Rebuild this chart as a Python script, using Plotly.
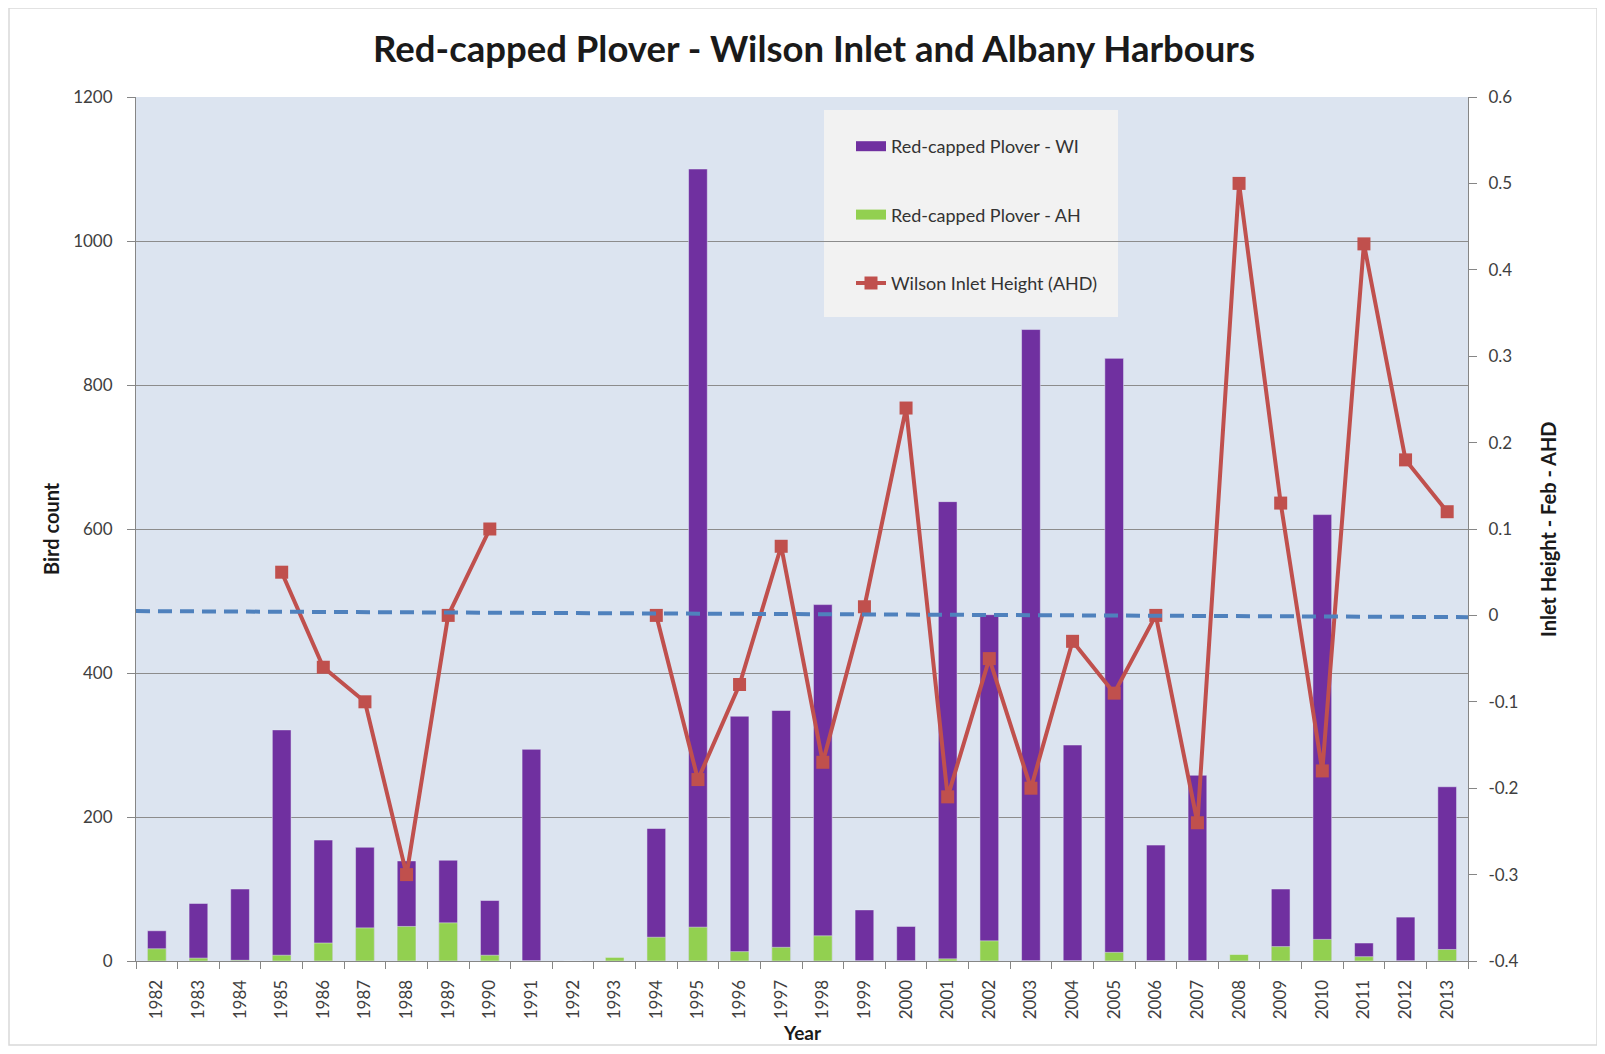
import plotly.graph_objects as go

years = list(range(1982, 2014))
plover_wi = [42, 80, 100, 321, 168, 158, 139, 140, 84, 294, 0, 0, 184, 1100, 340, 348, 495, 71, 48, 638, 481, 877, 300, 837, 161, 258, 0, 100, 620, 25, 61, 242]
plover_ah = [17, 4, 1, 8, 25, 46, 48, 53, 8, 0, 0, 5, 33, 47, 13, 19, 35, 0, 0, 3, 28, 0, 0, 12, 0, 0, 9, 20, 30, 6, 0, 16]
inlet_height = [None, None, None, 0.05, -0.06, -0.10, -0.30, 0.0, 0.10, None, None, None, 0.0, -0.19, -0.08, 0.08, -0.17, 0.01, 0.24, -0.21, -0.05, -0.20, -0.03, -0.09, 0.0, -0.24, 0.50, 0.13, -0.18, 0.43, 0.18, 0.12]
trend_x = [1981.5, 2013.5]
trend_y = [0.005, -0.002]
left_ticks = [0, 200, 400, 600, 800, 1000, 1200]
right_tickvals = [0.6, 0.5, 0.4, 0.3, 0.2, 0.1, 0.0, -0.1, -0.2, -0.3, -0.4]
right_ticktext = ["0.6", "0.5", "0.4", "0.3", "0.2", "0.1", "0", "-0.1", "-0.2", "-0.3", "-0.4"]

OFF = 8  # page body margin
W, H = 1605 - 2 * OFF, 1054 - 2 * OFF
# plot area in screen (reference) pixels
L_s, R_s, T_s, B_s = 136, 1468, 97, 961
L, R, T, B = L_s - OFF, R_s - OFF, T_s - OFF, B_s - OFF
pw, ph = R - L, B - T


def px_x(x):
    return (x - OFF - L) / pw


def px_y(y):
    return (B - (y - OFF)) / ph


FONT = "Lato"
PURPLE = "#7030A0"
GREEN = "#92D050"
RED = "#C0504D"
BLUE = "#4F81BD"
AX = "#868686"
TICKC = "#404040"
TS = 17

fig = go.Figure()
fig.add_trace(go.Bar(x=years, y=plover_wi, name="Red-capped Plover - WI", marker_color=PURPLE,
                     width=0.45, showlegend=False))
fig.add_trace(go.Bar(x=years, y=plover_ah, name="Red-capped Plover - AH", marker_color=GREEN,
                     width=0.45, showlegend=False))
fig.add_trace(go.Scatter(x=years, y=inlet_height, yaxis="y2", mode="lines+markers",
                         name="Wilson Inlet Height (AHD)", line=dict(color=RED, width=4),
                         marker=dict(symbol="square", size=13, color=RED), connectgaps=False,
                         legendgroup="c", legendrank=3))
fig.add_trace(go.Scatter(x=trend_x, y=trend_y, yaxis="y2", mode="lines", showlegend=False,
                         line=dict(color=BLUE, width=4, dash="14px,8px"), hoverinfo="skip"))
# legend entries drawn as wide colour swatches
fig.add_trace(go.Scatter(x=[None], y=[None], mode="lines", name="Red-capped Plover - WI",
                         line=dict(color=PURPLE, width=10), legendgroup="a", legendrank=1))
fig.add_trace(go.Scatter(x=[None], y=[None], mode="lines", name="Red-capped Plover - AH",
                         line=dict(color=GREEN, width=10), legendgroup="b", legendrank=2))

minor_vals = [y - 0.5 for y in years] + [years[-1] + 0.5]

fig.update_layout(
    width=W, height=H,
    margin=dict(l=L, r=W - R, t=T, b=H - B, pad=0),
    paper_bgcolor="white", plot_bgcolor="#DCE4F0",
    barmode="overlay",
    font=dict(family=FONT, size=TS, color=TICKC),
    title=dict(text="<b>Red-capped Plover - Wilson Inlet and Albany Harbours</b>",
               x=(814 - OFF) / W, xanchor="center", y=1 - (49 - OFF) / H, yanchor="middle",
               font=dict(family=FONT, size=36.5, color="#1a1a1a")),
    xaxis=dict(range=[1981.5, 2013.5], tickvals=years, ticktext=[str(y) for y in years],
               tickangle=-90, ticks="", showgrid=False, showline=True, linecolor=AX,
               linewidth=1, tickfont=dict(size=TS, color=TICKC), ticklabelstandoff=11,
               minor=dict(tickvals=minor_vals, ticks="outside", ticklen=7, tickcolor=AX, showgrid=False)),
    yaxis=dict(range=[0, 1200], tickvals=left_ticks, showgrid=True, gridcolor="#8C8C8C", gridwidth=1,
               zeroline=False, showline=True, linecolor=AX, ticks="outside", ticklen=8,
               tickcolor=AX, tickfont=dict(size=TS, color=TICKC), ticklabelstandoff=11),
    yaxis2=dict(range=[-0.4, 0.6], overlaying="y", side="right", tickvals=right_tickvals,
                ticktext=right_ticktext, showgrid=False, zeroline=False, showline=True,
                linecolor=AX, ticks="outside", ticklen=8, tickcolor=AX,
                tickfont=dict(size=TS, color=TICKC), ticklabelstandoff=8),
    legend=dict(x=px_x(851), y=px_y(128), xanchor="left", yanchor="top", bgcolor="rgba(0,0,0,0)",
                traceorder="grouped", tracegroupgap=42, font=dict(family=FONT, size=18, color="#333333")),
    showlegend=True,
)

fig.add_shape(type="rect", xref="paper", yref="paper", x0=px_x(824), x1=px_x(1118), y0=px_y(317), y1=px_y(110),
              fillcolor="#F2F2F2", line=dict(width=0), layer="below")
fig.add_shape(type="rect", xref="paper", yref="paper", x0=px_x(9), x1=px_x(1597), y0=px_y(1045), y1=px_y(8),
              fillcolor="rgba(0,0,0,0)", line=dict(color="#D9D9D9", width=1.5), layer="below")

fig.add_annotation(text="<b>Bird count</b>", xref="paper", yref="paper", x=px_x(51), y=px_y(529),
                   xanchor="center", yanchor="middle",
                   textangle=-90, showarrow=False, font=dict(family=FONT, size=20, color="#1a1a1a"))
fig.add_annotation(text="<b>Inlet Height - Feb - AHD</b>", xref="paper", yref="paper", x=px_x(1548), y=px_y(529),
                   xanchor="center", yanchor="middle",
                   textangle=-90, showarrow=False, font=dict(family=FONT, size=20, color="#1a1a1a"))
fig.add_annotation(text="<b>Year</b>", xref="paper", yref="paper", x=px_x(803), y=px_y(1032),
                   xanchor="center", yanchor="middle",
                   showarrow=False, font=dict(family=FONT, size=19, color="#1a1a1a"))

fig.write_html("out.html")
